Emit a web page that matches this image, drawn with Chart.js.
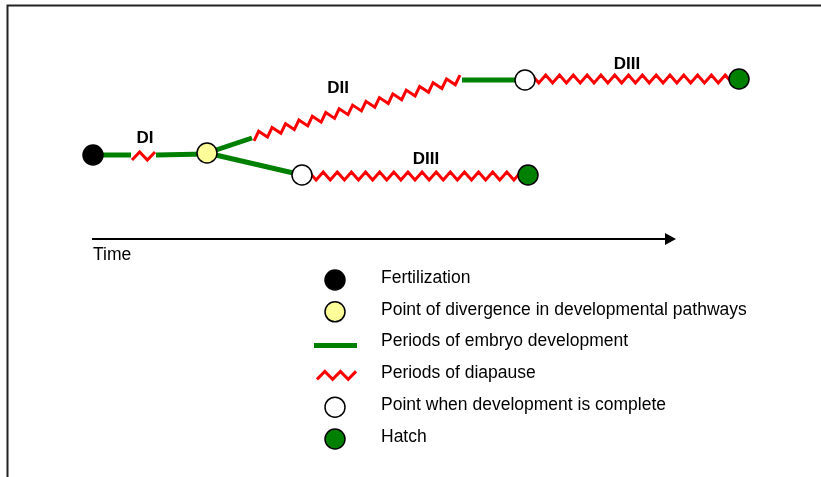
<!DOCTYPE html>
<html>
<head>
<meta charset="utf-8">
<script src="https://cdn.jsdelivr.net/npm/chart.js@4"></script>
<style>
html, body { margin: 0; background: #fff; }
#wrap { width: 821px; height: 477px; }
</style>
</head>
<body>
<div id="wrap"><canvas id="myChart"></canvas></div>
<script>
// diagram nodes (x = time, y = vertical place of the pathway)
const fertilization = [{x: 93, y: 155}];
const divergence = [{x: 207, y: 153}];
const devComplete = [{x: 302, y: 175}, {x: 525, y: 80}];
const hatch = [{x: 528, y: 175}, {x: 739, y: 79}];

// periods of embryo development (green)
const development = [
    [{x: 103, y: 155}, {x: 131, y: 155}],
    [{x: 156, y: 155}, {x: 207, y: 154}],
    [{x: 207, y: 153}, {x: 252, y: 138}],
    [{x: 207, y: 153}, {x: 302, y: 175}],
    [{x: 462, y: 80}, {x: 525, y: 80}]
];

// periods of diapause (red zigzag)
const diapause = [
    [{x: 132, y: 156}, {x: 155, y: 156}],
    [{x: 253, y: 137}, {x: 461, y: 79}],
    [{x: 302, y: 176}, {x: 528, y: 176}],
    [{x: 525, y: 79}, {x: 739, y: 79}]
];

const stageLabels = ['DI', 'DII', 'DIII', 'DIII'];
const stageLabelPos = [{x: 145, y: 138}, {x: 338, y: 88}, {x: 426, y: 159}, {x: 627, y: 64}];

const legendLabels = [
    'Fertilization',
    'Point of divergence in developmental pathways',
    'Periods of embryo development',
    'Periods of diapause',
    'Point when development is complete',
    'Hatch'
];
const legendKinds = ['fert', 'div', 'dev', 'dia', 'done', 'hatch'];

const GREEN = '#008000';
const RED = '#ff0000';
const FONT = "'Liberation Sans', Arial, sans-serif";

const markerStyle = {
    fert: {bg: '#000000'},
    div: {bg: '#ffff99'},
    done: {bg: '#ffffff'},
    hatch: {bg: '#008000'}
};

function zigzag(ctx, x0, y0, x1, y1, amp, half) {
    const dx = x1 - x0, dy = y1 - y0;
    const len = Math.sqrt(dx * dx + dy * dy);
    const n = Math.max(2, Math.round(len / half));
    const nx = -dy / len, ny = dx / len;
    ctx.beginPath();
    for (let i = 0; i <= n; i++) {
        const t = i / n;
        const s = (i % 2 === 0) ? amp : -amp;
        const px = x0 + dx * t + nx * s;
        const py = y0 + dy * t + ny * s;
        if (i === 0) ctx.moveTo(px, py); else ctx.lineTo(px, py);
    }
    ctx.stroke();
}

function drawMarker(ctx, kind, x, y) {
    ctx.beginPath();
    ctx.arc(x, y, 10, 0, Math.PI * 2);
    ctx.fillStyle = markerStyle[kind].bg;
    ctx.fill();
    ctx.lineWidth = 1.5;
    ctx.strokeStyle = '#000';
    ctx.stroke();
}

const diagramPlugin = {
    id: 'diagram',
    beforeDatasetsDraw(chart) {
        const ctx = chart.ctx;
        const xs = chart.scales.x, ys = chart.scales.y;
        ctx.save();
        ctx.strokeStyle = RED;
        ctx.lineWidth = 3;
        ctx.lineJoin = 'miter';
        for (const seg of diapause) {
            zigzag(ctx,
                xs.getPixelForValue(seg[0].x), ys.getPixelForValue(seg[0].y),
                xs.getPixelForValue(seg[1].x), ys.getPixelForValue(seg[1].y), 4, 7);
        }
        ctx.restore();
    },
    afterDraw(chart) {
        const ctx = chart.ctx;
        const xs = chart.scales.x, ys = chart.scales.y;
        ctx.save();

        // frame
        ctx.strokeStyle = '#222';
        ctx.lineWidth = 2;
        ctx.beginPath();
        ctx.moveTo(7.5, 477);
        ctx.lineTo(7.5, 5.5);
        ctx.lineTo(821, 5.5);
        ctx.stroke();

        // stage labels
        ctx.fillStyle = '#000';
        ctx.font = 'bold 17px ' + FONT;
        ctx.textAlign = 'center';
        ctx.textBaseline = 'middle';
        stageLabels.forEach((t, i) => {
            ctx.fillText(t, xs.getPixelForValue(stageLabelPos[i].x), ys.getPixelForValue(stageLabelPos[i].y));
        });

        // time arrow
        ctx.strokeStyle = '#000';
        ctx.lineWidth = 2;
        ctx.beginPath();
        ctx.moveTo(92, 239);
        ctx.lineTo(667, 239);
        ctx.stroke();
        ctx.beginPath();
        ctx.moveTo(676, 239);
        ctx.lineTo(665, 233);
        ctx.lineTo(665, 245);
        ctx.closePath();
        ctx.fillStyle = '#000';
        ctx.fill();
        ctx.font = '17.5px ' + FONT;
        ctx.textAlign = 'left';
        ctx.fillText('Time', 93, 255);

        // legend
        legendLabels.forEach((label, i) => {
            const ty = 278 + i * 31.8;
            const sy = ty + 2;
            const kind = legendKinds[i];
            if (kind === 'dev') {
                ctx.strokeStyle = GREEN;
                ctx.lineWidth = 5;
                ctx.beginPath();
                ctx.moveTo(314, sy + 2);
                ctx.lineTo(357, sy + 2);
                ctx.stroke();
            } else if (kind === 'dia') {
                ctx.strokeStyle = RED;
                ctx.lineWidth = 3;
                zigzag(ctx, 317, sy, 356, sy, 4, 7.8);
            } else {
                drawMarker(ctx, kind, 335, sy);
            }
            ctx.fillStyle = '#000';
            ctx.fillText(label, 381, ty);
        });
        ctx.restore();
    }
};

const datasets = [];
const markerSets = [[fertilization, 'fert'], [divergence, 'div'], [devComplete, 'done'], [hatch, 'hatch']];
for (const [pts, kind] of markerSets) {
    datasets.push({
        type: 'scatter',
        data: pts,
        pointRadius: 10,
        pointBackgroundColor: markerStyle[kind].bg,
        pointBorderColor: '#000',
        pointBorderWidth: 1.5,
        order: 0
    });
}
for (const seg of development) {
    datasets.push({
        type: 'line',
        data: seg,
        borderColor: GREEN,
        borderWidth: 5,
        borderCapStyle: 'butt',
        pointRadius: 0,
        fill: false,
        order: 1
    });
}

const ctx = document.getElementById('myChart').getContext('2d');
const chart = new Chart(ctx, {
    data: {datasets: datasets},
    options: {
        responsive: true,
        maintainAspectRatio: false,
        animation: false,
        events: [],
        layout: {padding: 0, autoPadding: false},
        scales: {
            x: {type: 'linear', min: 0, max: 821, display: false},
            y: {type: 'linear', min: 0, max: 477, reverse: true, display: false}
        },
        plugins: {
            legend: {display: false},
            tooltip: {enabled: false}
        }
    },
    plugins: [diagramPlugin]
});
</script>
</body>
</html>
